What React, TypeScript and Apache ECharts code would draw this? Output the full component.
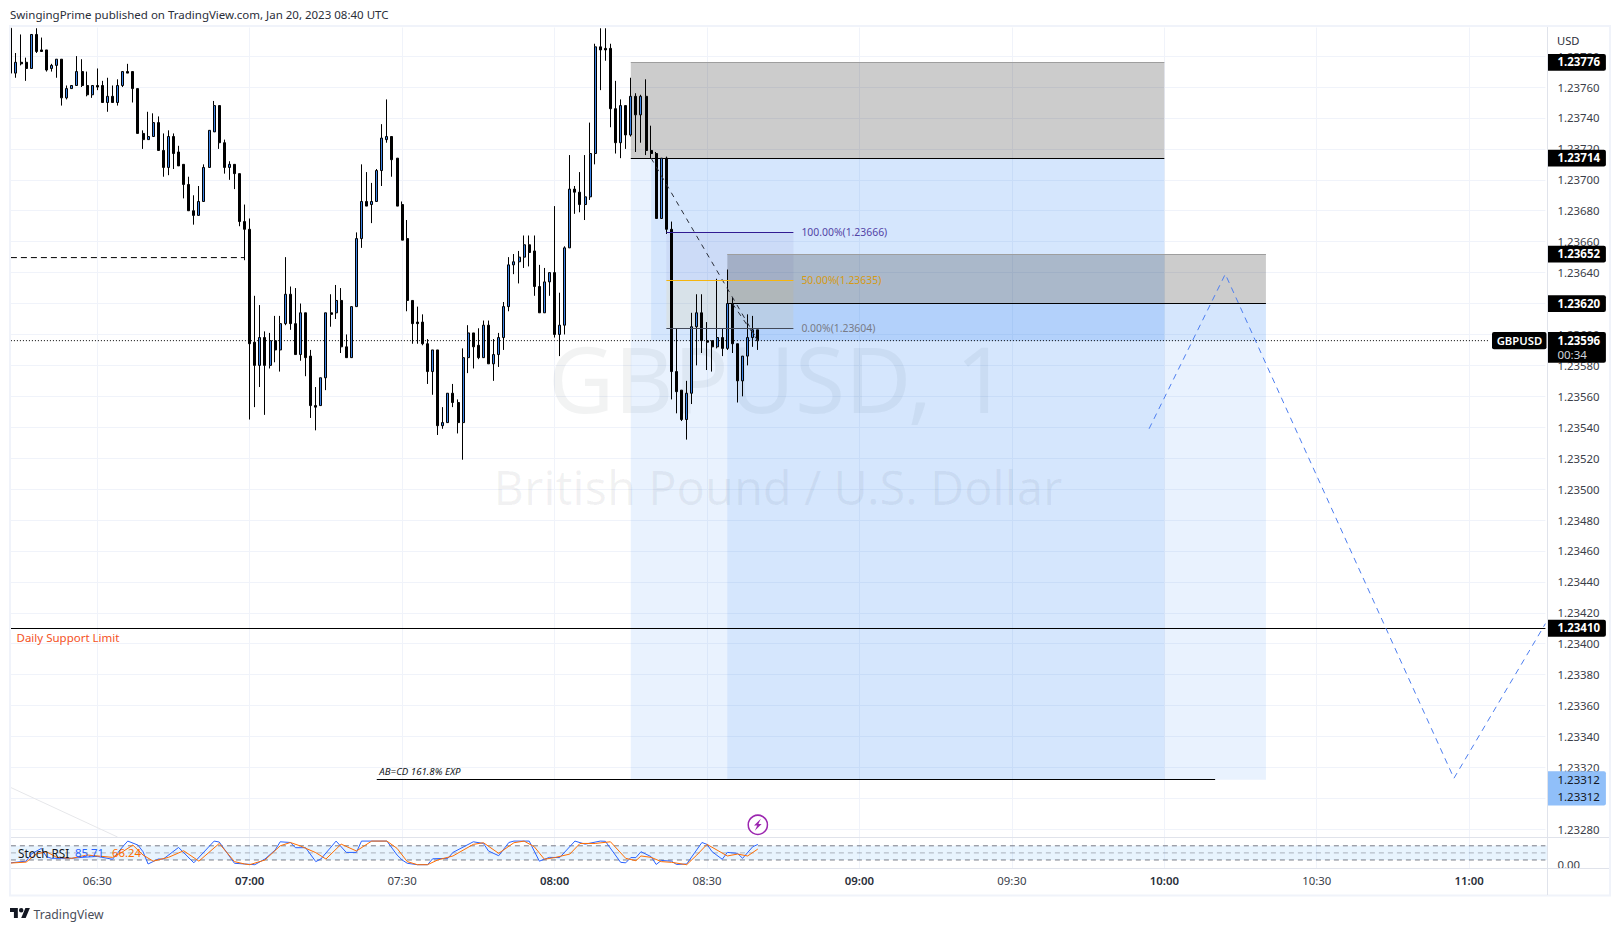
import React, { useEffect, useRef } from "react";
import * as echarts from "echarts";

const FONT = '"Noto Sans", sans-serif';

// ---- time axis: one category per minute
const firstMinute = 6 * 60 + 13;
const lastMinute = 11 * 60 + 15;
const pad = (n: number) => String(n).padStart(2, "0");
const categories: string[] = [];
for (let m = firstMinute; m <= lastMinute; m++) categories.push(`${pad(Math.floor(m / 60))}:${pad(m % 60)}`);
const at = (t: string) => categories.indexOf(t);
const isTimeMark = (_: number, v: string) => v.endsWith(":00") || v.endsWith(":30");

// ---- candles, first bar is 06:13
const opens = [1.23798,1.23769,1.23776,1.23776,1.23772,1.23794,1.23784,1.23784,1.23772,1.23774,
1.23778,1.23753,1.23759,1.23761,1.23770,1.23761,1.23755,1.23761,1.23761,1.23750,
1.23754,1.23750,1.23761,1.23770,1.23770,1.23759,1.23730,1.23726,1.23728,1.23737,
1.23719,1.23708,1.23728,1.23718,1.23710,1.23697,1.23680,1.23677,1.23686,1.23708,
1.23731,1.23748,1.23724,1.23708,1.23710,1.23704,1.23673,1.23668,1.23595,1.23580,
1.23598,1.23580,1.23596,1.23590,1.23607,1.23626,1.23607,1.23587,1.23614,1.23586,
1.23554,1.23554,1.23572,1.23614,1.23614,1.23622,1.23592,1.23585,1.23618,1.23662,
1.23686,1.23684,1.23686,1.23706,1.23726,1.23728,1.23714,1.23684,1.23662,1.23622,
1.23608,1.23608,1.23594,1.23576,1.23590,1.23541,1.23543,1.23562,1.23556,1.23543,
1.23585,1.23601,1.23593,1.23585,1.23606,1.23581,1.23587,1.23598,1.23618,1.23645,
1.23647,1.23650,1.23658,1.23654,1.23631,1.23614,1.23634,1.23640,1.23600,1.23606,
1.23656,1.23694,1.23692,1.23684,1.23689,1.23717,1.23786,1.23785,1.23785,1.23746,
1.23724,1.23748,1.23729,1.23754,1.23742,1.23754,1.23719,1.23717,1.23675,1.23714,
1.23668,1.23576,1.23564,1.23545,1.23562,1.23605,1.23614,1.23596,1.23596,1.23592,
1.23598,1.23591,1.23620,1.23594,1.23570,1.23586,1.23598,1.23603];
const closes = [1.23769,1.23776,1.23775,1.23772,1.23794,1.23783,1.23783,1.23771,1.23774,1.23778,
1.23753,1.23759,1.23761,1.23770,1.23761,1.23755,1.23761,1.23760,1.23750,1.23754,
1.23750,1.23761,1.23770,1.23769,1.23759,1.23730,1.23726,1.23728,1.23737,1.23719,
1.23708,1.23728,1.23717,1.23709,1.23697,1.23680,1.23677,1.23686,1.23708,1.23732,
1.23748,1.23724,1.23708,1.23710,1.23704,1.23673,1.23668,1.23594,1.23580,1.23598,
1.23580,1.23596,1.23590,1.23607,1.23626,1.23607,1.23587,1.23614,1.23585,1.23554,
1.23553,1.23572,1.23614,1.23613,1.23622,1.23592,1.23585,1.23618,1.23662,1.23686,
1.23683,1.23686,1.23706,1.23727,1.23728,1.23713,1.23683,1.23661,1.23622,1.23607,
1.23607,1.23594,1.23576,1.23590,1.23541,1.23543,1.23562,1.23556,1.23543,1.23585,
1.23601,1.23592,1.23585,1.23606,1.23581,1.23587,1.23598,1.23618,1.23645,1.23647,
1.23650,1.23658,1.23653,1.23631,1.23614,1.23634,1.23640,1.23600,1.23606,1.23656,
1.23694,1.23692,1.23684,1.23689,1.23717,1.23786,1.23784,1.23784,1.23746,1.23724,
1.23748,1.23729,1.23754,1.23742,1.23754,1.23719,1.23717,1.23675,1.23714,1.23668,
1.23576,1.23563,1.23545,1.23562,1.23605,1.23614,1.23596,1.23595,1.23592,1.23598,
1.23591,1.23620,1.23594,1.23570,1.23586,1.23598,1.23603,1.23596];
const lows = [1.23769,1.23766,1.23774,1.23764,1.23772,1.23782,1.23783,1.23770,1.23770,1.23766,
1.23748,1.23752,1.23759,1.23761,1.23760,1.23754,1.23753,1.23758,1.23750,1.23744,
1.23750,1.23748,1.23760,1.23769,1.23750,1.23730,1.23720,1.23726,1.23728,1.23719,
1.23702,1.23703,1.23707,1.23709,1.23688,1.23680,1.23671,1.23677,1.23686,1.23708,
1.23731,1.23720,1.23704,1.23700,1.23694,1.23670,1.23648,1.23545,1.23553,1.23566,
1.23548,1.23578,1.23582,1.23576,1.23606,1.23603,1.23587,1.23583,1.23573,1.23546,
1.23538,1.23554,1.23564,1.23605,1.23610,1.23588,1.23585,1.23585,1.23618,1.23656,
1.23683,1.23672,1.23686,1.23696,1.23724,1.23702,1.23683,1.23661,1.23615,1.23594,
1.23594,1.23593,1.23568,1.23561,1.23535,1.23539,1.23543,1.23553,1.23536,1.23519,
1.23575,1.23578,1.23584,1.23585,1.23581,1.23570,1.23579,1.23590,1.23615,1.23639,
1.23633,1.23643,1.23644,1.23625,1.23614,1.23614,1.23625,1.23598,1.23586,1.23600,
1.23656,1.23678,1.23679,1.23674,1.23687,1.23710,1.23758,1.23777,1.23734,1.23717,
1.23714,1.23720,1.23728,1.23718,1.23724,1.23716,1.23714,1.23675,1.23675,1.23665,
1.23558,1.23549,1.23544,1.23532,1.23555,1.23580,1.23588,1.23577,1.23576,1.23591,
1.23586,1.23590,1.23588,1.23556,1.23560,1.23580,1.23592,1.23590];
const highs = [1.23798,1.23782,1.23794,1.23779,1.23794,1.23798,1.23792,1.23784,1.23775,1.23778,
1.23778,1.23761,1.23761,1.23780,1.23778,1.23770,1.23761,1.23772,1.23764,1.23766,
1.23761,1.23765,1.23770,1.23775,1.23770,1.23759,1.23732,1.23744,1.23743,1.23741,
1.23730,1.23732,1.23730,1.23722,1.23710,1.23702,1.23690,1.23696,1.23710,1.23732,
1.23751,1.23748,1.23726,1.23712,1.23710,1.23704,1.23684,1.23675,1.23625,1.23619,
1.23602,1.23601,1.23612,1.23612,1.23650,1.23631,1.23630,1.23620,1.23614,1.23590,
1.23566,1.23572,1.23614,1.23626,1.23632,1.23630,1.23600,1.23618,1.23666,1.23710,
1.23705,1.23698,1.23707,1.23736,1.23752,1.23728,1.23714,1.23686,1.23674,1.23622,
1.23618,1.23613,1.23597,1.23590,1.23590,1.23553,1.23562,1.23568,1.23558,1.23591,
1.23606,1.23601,1.23604,1.23609,1.23609,1.23597,1.23601,1.23621,1.23650,1.23652,
1.23654,1.23664,1.23664,1.23664,1.23645,1.23643,1.23640,1.23683,1.23627,1.23657,
1.23716,1.23696,1.23705,1.23716,1.23737,1.23788,1.23798,1.23798,1.23788,1.23764,
1.23752,1.23748,1.23766,1.23756,1.23755,1.23765,1.23735,1.23718,1.23714,1.23715,
1.23673,1.23604,1.23564,1.23570,1.23614,1.23626,1.23626,1.23608,1.23596,1.23636,
1.23604,1.23642,1.23624,1.23594,1.23586,1.23613,1.23612,1.23603];

// ---- Stoch RSI turning points: bar number, value
const stochK: [number, number][] = [[0,8],[3,15],[4,45],[6,69],[7,34],[8,27],[10,27],[12,27],[14,31],[17,35],[20,23],[22,76],[23,100],[25,83],[26,55],[27,3],[29,24],[30,24],[33,73],[36,8],[40,100],[41,96],[44,6],[46,3],[48,0],[50,24],[52,62],[53,97],[55,94],[56,72],[58,72],[60,13],[61,24],[64,100],[66,52],[68,52],[69,100],[74,100],[76,41],[77,20],[78,6],[80,0],[82,0],[83,25],[86,27],[87,52],[91,97],[93,90],[94,58],[96,38],[98,94],[99,100],[102,100],[104,15],[106,31],[108,30],[111,100],[113,87],[116,100],[117,99],[120,10],[121,8],[122,30],[123,30],[124,55],[126,34],[127,1],[128,18],[130,15],[131,1],[133,3],[136,94],[137,86],[138,55],[140,23],[141,52],[143,48],[144,27],[146,76],[147,85.71]];
const stochD: [number, number][] = [[0,7],[3,11],[5,45],[7,55],[9,31],[12,27],[15,41],[20,31],[22,55],[24,83],[26,41],[28,15],[31,31],[34,59],[37,15],[41,90],[44,13],[46,3],[47,0],[50,20],[53,80],[55,94],[57,79],[60,51],[62,24],[65,87],[68,58],[71,100],[74,100],[76,69],[78,13],[80,0],[82,0],[84,20],[87,37],[91,86],[93,93],[96,48],[99,93],[101,100],[103,76],[105,23],[107,30],[110,45],[112,90],[115,90],[118,97],[121,27],[123,17],[124,37],[126,31],[128,13],[130,10],[133,0],[135,41],[137,86],[141,37],[143,45],[145,37],[147,66.24]];
const stochBands = [80, 50, 20];

// ---- axis ticks
const priceTicks = [1.2328,1.233,1.2332,1.2334,1.2336,1.2338,1.234,1.2342,1.2344,1.2346,1.2348,1.235,1.2352,1.2354,1.2356,1.2358,1.236,1.2362,1.2364,1.2366,1.2368,1.237,1.2372,1.2374,1.2376,1.2378];

// ---- drawings on the price pane: [from, to, top, bottom]
const boxes: [string, string, number, number][] = [
  ["08:15", "10:00", 1.23776, 1.23714],
  ["08:15", "10:00", 1.23714, 1.23312],
  ["08:19", "10:00", 1.23714, 1.23596],
  ["08:34", "10:20", 1.23652, 1.2362],
  ["08:34", "10:20", 1.2362, 1.23312],
  ["08:35", "10:20", 1.2362, 1.23596],
  ["08:22", "08:47", 1.23666, 1.23635],
  ["08:22", "08:47", 1.23635, 1.23604],
];
const GREY_FILL = "rgba(0,0,0,0.2)";
const BLUE_FILL = "rgba(41,130,245,0.1)";
const boxFills = [GREY_FILL, BLUE_FILL, BLUE_FILL, GREY_FILL, BLUE_FILL, BLUE_FILL, "rgba(49,27,146,0.05)", "rgba(255,179,0,0.08)"];

const stopTops: [string, string, number][] = [["08:15", "10:00", 1.23776], ["08:34", "10:20", 1.23652]];
const entryLines: [string, string, number][] = [["08:15", "10:00", 1.23714], ["08:34", "10:20", 1.2362], ["06:13", "11:15", 1.2341], ["07:25", "10:10", 1.23312]];
const fibLevels: [string, string, number, string][] = [
  ["08:22", "08:47", 1.23666, "100.00%"],
  ["08:22", "08:47", 1.23635, "50.00%"],
  ["08:22", "08:47", 1.23604, "0.00%"],
];
const fibLine = ["#311b92", "#f5b50d", "#434a59"];
const fibText = ["#5344a6", "#d69a12", "#787b86"];
const zigzag: [string, number][] = [["09:57", 1.23539], ["10:12", 1.23639], ["10:57", 1.23313], ["11:15", 1.23413]];
const tradeDiagonals: [string, number][][] = [
  [["08:19", 1.23714], ["08:40", 1.23596]],
  [["08:35", 1.2362], ["08:40", 1.23596]],
];
const breakLine: [string, number][] = [["06:13", 1.236497], ["06:59", 1.236497]];
const lastPrice = 1.23596;
const priceLine: [string, number][] = [["06:13", lastPrice], ["11:04", lastPrice]];
const faintLine: [string, number][] = [["06:13", 1.23307], ["06:34", 1.23275]];
const blackTags = [1.23776, 1.23714, 1.23652, 1.2362, 1.2341];
const targetPrice = 1.23312;

const priceMin = 1.232747;
const priceMax = 1.237985;
const GRID = "#f0f3fa";
const AXIS_TEXT = "#3a3e49";

function toPts(pts: [string, number][]) {
  return pts.map(([t, p]) => [at(t), p]);
}
function lineSeries(pts: [string, number][], color: string, width: number, type: any, z: number) {
  return {
    type: "line", data: toPts(pts), xAxisIndex: 0, yAxisIndex: 0, symbol: "none", silent: true, z,
    lineStyle: { color, width, type }, emphasis: { disabled: true },
  };
}
function custom(data: any[], renderItem: any, z: number, xAxisIndex = 0, yAxisIndex = 0) {
  return { type: "custom", data, renderItem, z, xAxisIndex, yAxisIndex, silent: true, encode: { x: 0, y: 1 } };
}

function buildOption() {
  const candles = opens.map((o, i) => [o, closes[i], lows[i], highs[i]]);

  const boxSeries = custom(boxes.map((b) => [at(b[0]), b[2]]), (p: any, api: any) => {
    const b = boxes[p.dataIndex];
    const a = api.coord([at(b[0]), b[2]]);
    const c = api.coord([at(b[1]), b[3]]);
    return { type: "rect", shape: { x: a[0], y: a[1], width: c[0] - a[0], height: c[1] - a[1] }, style: { fill: boxFills[p.dataIndex] } };
  }, 1);

  const hSeg = (list: [string, string, number][], color: string, z: number) =>
    custom(list.map((s) => [at(s[0]), s[2]]), (p: any, api: any) => {
      const s = list[p.dataIndex];
      const a = api.coord([at(s[0]), s[2]]);
      const c = api.coord([at(s[1]), s[2]]);
      const y = Math.floor(a[1]) + 0.5;
      return { type: "line", shape: { x1: a[0], y1: y, x2: c[0], y2: y }, style: { stroke: color, lineWidth: 1 } };
    }, z);

  const fibSeries = custom(fibLevels.map((f) => [at(f[0]), f[2]]), (p: any, api: any) => {
    const f = fibLevels[p.dataIndex];
    const a = api.coord([at(f[0]), f[2]]);
    const c = api.coord([at(f[1]), f[2]]);
    const y = Math.floor(a[1]) + 0.5;
    return {
      type: "group",
      children: [
        { type: "line", shape: { x1: a[0], y1: y, x2: c[0], y2: y }, style: { stroke: fibLine[p.dataIndex], lineWidth: 1 } },
        { type: "text", x: c[0] + 8, y: y - 0.5, style: { text: `${f[3]}(${f[2].toFixed(5)})`, fill: fibText[p.dataIndex], fontSize: 10.4, fontFamily: FONT, align: "left", verticalAlign: "middle" } },
      ],
    };
  }, 5);

  const tagX = (api: any, p: number) => api.coord([categories.length - 1, p]);
  const textEl = (x: number, y: number, text: string, fill: string, weight: any = "normal") => ({
    type: "text", x, y,
    style: { text, fill, fontSize: 11.5, fontWeight: weight, fontFamily: FONT, align: "left", verticalAlign: "middle" },
  });
  const tagSeries = custom(blackTags.map((t) => [categories.length - 1, t]), (p: any, api: any) => {
    const price = blackTags[p.dataIndex];
    const c = tagX(api, price);
    return {
      type: "group",
      children: [
        { type: "rect", shape: { x: c[0] + 2, y: c[1] - 8.4, width: 58.5, height: 16.8, r: [0, 2, 2, 0] }, style: { fill: "#000" } },
        textEl(c[0] + 12, c[1] - 0.5, price.toFixed(5), "#fff", 700),
      ],
    };
  }, 8);
  const lastTag = custom([[categories.length - 1, lastPrice]], (_: any, api: any) => {
    const c = tagX(api, lastPrice);
    return {
      type: "group",
      children: [
        { type: "rect", shape: { x: c[0] - 53.4, y: c[1] - 8.6, width: 54.5, height: 17.2, r: 2 }, style: { fill: "#000" } },
        { type: "text", x: c[0] - 26, y: c[1] - 0.5, style: { text: "GBPUSD", fill: "#fff", fontSize: 11.3, fontWeight: 600, fontFamily: FONT, align: "center", verticalAlign: "middle" } },
        { type: "rect", shape: { x: c[0] + 2, y: c[1] - 8.6, width: 58.5, height: 30.7, r: [0, 2, 2, 0] }, style: { fill: "#000" } },
        textEl(c[0] + 12, c[1] - 0.5, lastPrice.toFixed(5), "#fff", 700),
        textEl(c[0] + 12, c[1] + 14, "00:34", "#d1d4dc"),
      ],
    };
  }, 8);
  const targetTag = custom([[categories.length - 1, targetPrice]], (_: any, api: any) => {
    const c = tagX(api, targetPrice);
    return {
      type: "group",
      children: [
        { type: "rect", shape: { x: c[0] + 2, y: c[1] - 8.6, width: 58.5, height: 34.3, r: [0, 2, 2, 0] }, style: { fill: "#90bff9" } },
        textEl(c[0] + 12, c[1] - 0.5, targetPrice.toFixed(5), "#131722"),
        textEl(c[0] + 12, c[1] + 16.5, targetPrice.toFixed(5), "#131722"),
      ],
    };
  }, 8);

  const noteSeries = custom([[at("07:25"), 1.23312], [0, 1.2341]], (p: any, api: any) => {
    if (p.dataIndex === 0) {
      const a = api.coord([at("07:25"), 1.23312]);
      return { type: "text", x: a[0] + 2.6, y: a[1] - 8, style: { text: "AB=CD 161.8% EXP", fill: "#131722", fontSize: 9.7, fontStyle: "italic", fontFamily: FONT, align: "left", verticalAlign: "middle" } };
    }
    const a = api.coord([0, 1.2341]);
    return { type: "text", x: a[0] + 5.6, y: a[1] + 9.5, style: { text: "Daily Support Limit", fill: "#f4511e", fontSize: 11.5, fontFamily: FONT, align: "left", verticalAlign: "middle" } };
  }, 5);

  const alertSeries = custom([[at("08:40"), 1.232829]], (_: any, api: any) => {
    const c = api.coord([at("08:40"), 1.232829]);
    const pts = [[3, -6], [-3.8, 0.8], [-0.6, 0.8], [-3, 6], [3.8, -0.8], [0.6, -0.8]].map(([x, y]) => [c[0] + x, c[1] + y]);
    return {
      type: "group",
      children: [
        { type: "circle", shape: { cx: c[0], cy: c[1], r: 9.6 }, style: { fill: "#fff", stroke: "#9c27b0", lineWidth: 1.5 } },
        { type: "polygon", shape: { points: pts }, style: { fill: "#9c27b0" } },
      ],
    };
  }, 6);

  const bandSeries = custom([[0, 80]], (_: any, api: any) => {
    const a = api.coord([0, 80]);
    const c = api.coord([categories.length - 1, 20]);
    return { type: "rect", shape: { x: a[0], y: a[1], width: c[0] - a[0] + 1.6, height: c[1] - a[1] }, style: { fill: "rgba(33,150,243,0.1)" } };
  }, 1, 1, 1);

  const bandLines = stochBands.map((v, i) => ({
    type: "line", xAxisIndex: 1, yAxisIndex: 1, data: [[0, v], [categories.length - 1, v]], symbol: "none", silent: true, z: 2,
    lineStyle: { color: i === 1 ? "rgba(120,123,134,0.55)" : "#787b86", width: 1, type: [5, 4] },
  }));
  const stochLine = (data: [number, number][], color: string, z: number) => ({
    type: "line", xAxisIndex: 1, yAxisIndex: 1, data, symbol: "none", silent: true, z,
    lineStyle: { color, width: 1 },
  });

  const text = (x: number, y: number, t: string, fill: string, fontSize: number, extra: any = {}) => ({
    type: "text", x, y, z: 30, silent: true,
    style: { text: t, fill, fontSize, fontFamily: FONT, verticalAlign: "middle", align: "left", ...extra },
  });
  const border = (x1: number, y1: number, x2: number, y2: number, stroke: string, lineWidth = 1) => ({
    type: "line", z: 25, silent: true, shape: { x1, y1, x2, y2 }, style: { stroke, lineWidth },
  });

  return {
    animation: false,
    backgroundColor: "#ffffff",
    textStyle: { fontFamily: FONT },
    grid: [
      { left: 10.9, top: 27.5, width: 1534.5, height: 810 },
      { left: 10.9, top: 837.3, width: 1534.5, height: 30.7 },
    ],
    xAxis: [
      {
        type: "category", gridIndex: 0, data: categories, boundaryGap: false,
        axisLine: { show: false }, axisTick: { show: false }, axisLabel: { show: false },
        splitLine: { show: true, interval: isTimeMark, lineStyle: { color: GRID, width: 1 } },
      },
      {
        type: "category", gridIndex: 1, data: categories, boundaryGap: false,
        axisLine: { show: false }, axisTick: { show: false },
        axisLabel: {
          interval: isTimeMark, margin: 7, color: AXIS_TEXT, fontSize: 11.4, fontFamily: FONT,
          formatter: (v: string) => (v.endsWith(":00") ? `{h|${v}}` : v),
          rich: { h: { fontWeight: 600, color: "#2a2e39", fontSize: 11.4, fontFamily: FONT } },
        },
        splitLine: { show: true, interval: isTimeMark, lineStyle: { color: GRID, width: 1 } },
      },
    ],
    yAxis: [
      {
        type: "value", gridIndex: 0, position: "right", min: priceMin, max: priceMax,
        axisLine: { show: false }, axisTick: { show: false, customValues: priceTicks },
        axisLabel: { customValues: priceTicks, margin: 12, padding: [0, 0, 2, 0], color: AXIS_TEXT, fontSize: 11.4, fontFamily: FONT, formatter: (v: number) => v.toFixed(5) },
        splitLine: { show: true, lineStyle: { color: GRID, width: 1 } },
      },
      {
        type: "value", gridIndex: 1, position: "right", min: -14, max: 116,
        axisLine: { show: false }, axisTick: { show: false, customValues: [0] },
        axisLabel: { customValues: [0], margin: 12, padding: [0, 0, 2, 0], color: AXIS_TEXT, fontSize: 11.4, fontFamily: FONT, formatter: (v: number) => v.toFixed(2) },
        splitLine: { show: false },
      },
    ],
    series: [
      boxSeries,
      lineSeries(faintLine, "#e6e7ea", 1, "solid", 1),
      hSeg(stopTops, "#9e9e9e", 2),
      hSeg(entryLines, "#000000", 2),
      {
        type: "candlestick", xAxisIndex: 0, yAxisIndex: 0, data: candles, barWidth: 2.5, silent: true, z: 3,
        itemStyle: { color: "#3a82e4", color0: "#000000", borderColor: "#000000", borderColor0: "#000000", borderColorDoji: "#000000", borderWidth: 1 },
      },
      fibSeries,
      ...tradeDiagonals.map((d) => lineSeries(d, "#2a2e39", 1, [5, 5], 4)),
      lineSeries(breakLine, "#000000", 1, [6, 4], 4),
      lineSeries(priceLine, "#000000", 1, [1, 2], 4),
      lineSeries(zigzag, "#4d7ef0", 1, [6, 5], 4),
      noteSeries,
      alertSeries,
      tagSeries,
      lastTag,
      targetTag,
      bandSeries,
      ...bandLines,
      stochLine(stochK, "#2962ff", 3),
      stochLine(stochD, "#ff6d00", 4),
    ],
    graphic: {
      elements: [
        {
          type: "text", x: 778, y: 378, z: 1, silent: true,
          style: { text: "GBPUSD, 1", fill: "rgba(42,46,57,0.06)", fontSize: 91, fontFamily: FONT, align: "center", verticalAlign: "middle" },
        },
        {
          type: "text", x: 778, y: 487, z: 1, silent: true,
          style: { text: "British Pound / U.S. Dollar", fill: "rgba(42,46,57,0.06)", fontSize: 46.9, fontFamily: FONT, align: "center", verticalAlign: "middle" },
        },
        { type: "rect", z: 25, silent: true, shape: { x: 10, y: 26, width: 1600, height: 869.5 }, style: { fill: "none", stroke: GRID, lineWidth: 2 } },
        border(11, 837.5, 1609, 837.5, "#e0e3eb"),
        border(11, 868.5, 1609, 868.5, "#e0e3eb"),
        border(1547.5, 27, 1547.5, 895, "#e0e3eb"),
        text(10, 14.5, "SwingingPrime published on TradingView.com, Jan 20, 2023 08:40 UTC", "#2a2e39", 11.5),
        text(1557, 40.5, "USD", "#2a2e39", 11.2),
        text(18, 852.5, "Stoch RSI", "#131722", 11.7),
        text(75, 852.5, "85.71", "#2962ff", 11.4),
        text(112, 852.5, "66.24", "#ff6d00", 11.4),
        { type: "tvlogo", x: 10, y: 905.8, scaleX: 0.56, scaleY: 0.56, z: 30, silent: true, style: { fill: "#131722" } },
        text(33.5, 914, "TradingView", "#4a4e59", 12.2),
      ],
    },
  };
}

let registered = false;

export default function App() {
  const ref = useRef<HTMLDivElement>(null);
  useEffect(() => {
    if (!registered) {
      echarts.graphic.registerShape(
        "tvlogo",
        echarts.graphic.extendPath("M14 22H7V11H0V4h14v18zM28 22h-8l7.5-18h8L28 22zM16 8a4 4 0 1 0 8 0a4 4 0 1 0-8 0z", {}) as any,
      );
      registered = true;
    }
    const chart = echarts.init(ref.current as HTMLDivElement, undefined, { renderer: "svg" });
    chart.setOption(buildOption() as any);
    return () => chart.dispose();
  }, []);
  return <div ref={ref} style={{ position: "fixed", left: 0, top: 0, width: 1621, height: 931, background: "#fff" }} />;
}
